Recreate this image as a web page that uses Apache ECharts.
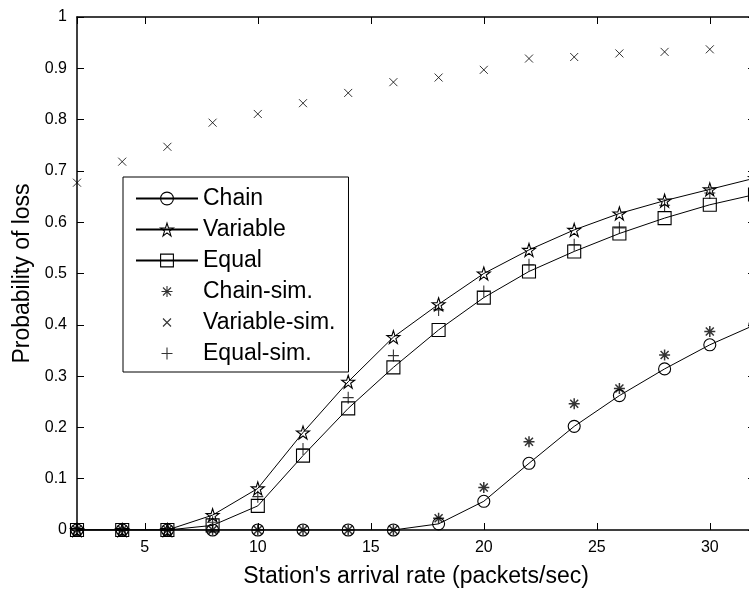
<!DOCTYPE html>
<html>
<head>
<meta charset="utf-8">
<script src="https://cdn.jsdelivr.net/npm/echarts@6/dist/echarts.min.js"></script>
<style>
  html, body { margin: 0; padding: 0; background: #fff; }
  #chart { width: 749px; height: 589px; }
</style>
</head>
<body>
<div id="chart"></div>
<script>
// Arrival rates (packets/sec): analytical curves run to 32, simulations to 30
const modelRates = [2, 4, 6, 8, 10, 12, 14, 16, 18, 20, 22, 24, 26, 28, 30, 32];
const simRates   = [2, 4, 6, 8, 10, 12, 14, 16, 18, 20, 22, 24, 26, 28, 30];

// Analytical loss probability
const chain    = [0, 0, 0, 0, 0, 0, 0, 0, 0.012, 0.056, 0.130, 0.202, 0.262, 0.314, 0.361, 0.400];
const variable = [0, 0, 0, 0.029, 0.081, 0.190, 0.289, 0.376, 0.440, 0.500, 0.546, 0.585, 0.617, 0.642, 0.664, 0.686];
const equal    = [0, 0, 0, 0.009, 0.047, 0.145, 0.237, 0.317, 0.390, 0.453, 0.504, 0.543, 0.578, 0.608, 0.634, 0.654];

// Simulated loss probability
const chainSim    = [0, 0, 0, 0, 0, 0, 0, 0, 0.023, 0.083, 0.172, 0.246, 0.276, 0.341, 0.387];
const variableSim = [0.677, 0.718, 0.747, 0.794, 0.811, 0.832, 0.852, 0.873, 0.882, 0.897, 0.919, 0.922, 0.929, 0.932, 0.937];
const equalSim    = [0, 0, 0, 0.015, 0.065, 0.158, 0.258, 0.340, 0.429, 0.465, 0.517, 0.556, 0.589, 0.633, 0.657];

const seriesNames = ['Chain', 'Variable', 'Equal', 'Chain-sim.', 'Variable-sim.', 'Equal-sim.'];

const FONT = '"Liberation Sans", Arial, Helvetica, sans-serif';

// MATLAB-like marker shapes (outline only); the leading moves pad the box
const PENTAGRAM = 'path://M0 -10 L2.245 -3.09 L9.511 -3.09 L3.633 1.18 L5.878 8.09 L0 3.82 L-5.878 8.09 L-3.633 1.18 L-9.511 -3.09 L-2.245 -3.09 Z';
const ASTERISK  = 'path://M-8 -8 M8 8 M0 -5.5 L0 5.5 M-5.5 0 L5.5 0 M-4 -4 L4 4 M-4 4 L4 -4';
const CROSS     = 'path://M-8 -8 M8 8 M-4 -4 L4 4 M-4 4 L4 -4';
const PLUS      = 'path://M-8 -8 M8 8 M-5.5 0 L5.5 0 M0 -6 L0 6';

const zip = (xs, ys) => ys.map((y, i) => [xs[i], y]);

const outline = (w) => ({ color: 'rgba(0,0,0,0)', borderColor: '#000', borderWidth: w });

function curve(name, values, symbol, size) {
  return {
    name, type: 'line', data: zip(modelRates, values),
    symbol, symbolSize: size, showSymbol: true, showAllSymbol: true,
    lineStyle: { color: '#000', width: 1 },
    itemStyle: outline(1.1),
    emphasis: { disabled: true },
    animation: false
  };
}

function sim(name, values, symbol, size, w) {
  return {
    name, type: 'scatter', data: zip(simRates, values),
    symbol, symbolSize: size,
    itemStyle: outline(w),
    emphasis: { disabled: true },
    animation: false
  };
}

const baseAxis = {
  axisLine: { show: true, onZero: false, lineStyle: { color: '#000', width: 1.5 } },
  axisTick: { show: true, inside: true, length: 7, lineStyle: { color: '#000', width: 1 } },
  splitLine: { show: false },
  nameTextStyle: { fontFamily: FONT, fontSize: 23, color: '#000' }
};

const chart = echarts.init(document.getElementById('chart'), null, { renderer: 'canvas' });

chart.setOption({
  backgroundColor: '#fff',
  animation: false,
  grid: { left: 77, top: 17, width: 678, height: 513, containLabel: false, outerBoundsMode: 'none' },
  xAxis: [
    Object.assign({}, baseAxis, {
      type: 'value', position: 'bottom', min: 2, max: 32, splitNumber: 6,
      name: "Station's arrival rate (packets/sec)", nameLocation: 'middle', nameGap: 35,
      axisLabel: { fontFamily: FONT, fontSize: 16, color: '#000', margin: 10,
                   showMinLabel: false, showMaxLabel: false }
    }),
    Object.assign({}, baseAxis, {
      type: 'value', position: 'top', min: 2, max: 32, splitNumber: 6,
      axisLabel: { show: false }
    })
  ],
  yAxis: [
    Object.assign({}, baseAxis, {
      type: 'value', position: 'left', min: 0, max: 1, interval: 0.1,
      name: 'Probability of loss', nameLocation: 'middle', nameRotate: 90, nameGap: 40,
      axisLabel: { fontFamily: FONT, fontSize: 16, color: '#000', margin: 10 }
    }),
    Object.assign({}, baseAxis, {
      type: 'value', position: 'right', min: 0, max: 1, interval: 0.1,
      axisLabel: { show: false }
    })
  ],
  legend: {
    data: seriesNames,
    orient: 'vertical',
    left: 123, top: 177,
    itemWidth: 62, itemHeight: 16, itemGap: 8,
    padding: [10, 13, 7, 12],
    backgroundColor: '#fff',
    borderColor: '#000', borderWidth: 1, borderRadius: 0,
    itemStyle: { borderWidth: 1.1 },
    textStyle: { fontFamily: FONT, fontSize: 23, color: '#000', padding: [0, 0, 0, 0] },
    selectedMode: false
  },
  series: [
    curve('Chain', chain, 'circle', 12),
    curve('Variable', variable, PENTAGRAM, 13),
    curve('Equal', equal, 'rect', 13),
    sim('Chain-sim.', chainSim, ASTERISK, 16, 1.5),
    sim('Variable-sim.', variableSim, CROSS, 16, 1),
    sim('Equal-sim.', equalSim, PLUS, 16, 1.1)
  ]
});
</script>
</body>
</html>
